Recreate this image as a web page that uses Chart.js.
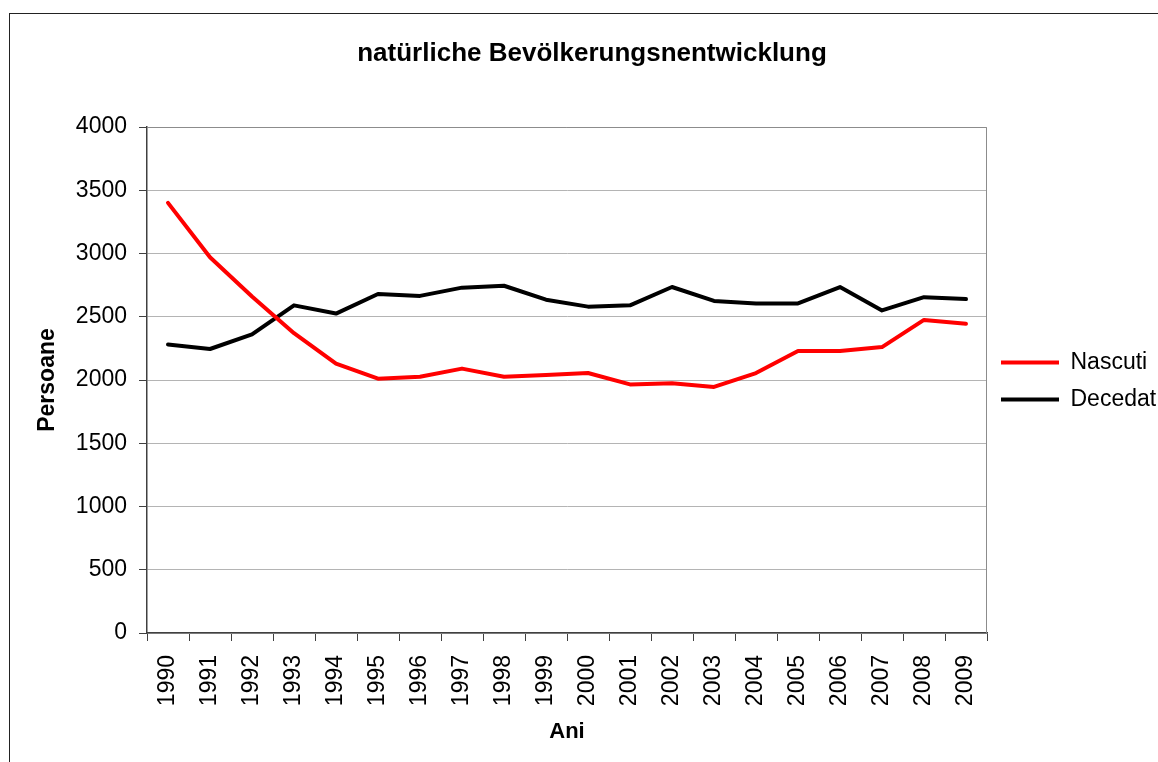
<!DOCTYPE html>
<html>
<head>
<meta charset="utf-8">
<title>natürliche Bevölkerungsnentwicklung</title>
<script src="https://cdn.jsdelivr.net/npm/chart.js@4/dist/chart.umd.min.js"></script>
<style>
  html, body { margin: 0; padding: 0; background: #fff; }
  #wrap { position: relative; width: 1158px; height: 762px; }
</style>
</head>
<body>
<div id="wrap"><canvas id="chart"></canvas></div>
<script>
// values
const years = ["1990", "1991", "1992", "1993", "1994", "1995", "1996", "1997", "1998", "1999",
               "2000", "2001", "2002", "2003", "2004", "2005", "2006", "2007", "2008", "2009"];
const nascuti = [3400, 2970, 2660, 2370, 2130, 2010, 2025, 2090, 2025, 2040,
                 2055, 1965, 1975, 1945, 2055, 2230, 2230, 2260, 2475, 2445];
const decedati = [2280, 2245, 2360, 2590, 2525, 2680, 2665, 2730, 2745, 2635,
                  2580, 2590, 2735, 2625, 2605, 2605, 2735, 2550, 2655, 2640];
const yMin = 0, yMax = 4000, yStep = 500;

const FONT = "'Liberation Sans', Arial, sans-serif";

// outer chart frame + grey plot-area border
const frame = {
  id: "frame",
  beforeDraw(chart) {
    const ctx = chart.ctx;
    ctx.save();
    ctx.fillStyle = "#fff";
    ctx.fillRect(0, 0, chart.width, chart.height);
    ctx.strokeStyle = "#222";
    ctx.lineWidth = 1;
    ctx.strokeRect(9.5, 13.5, 3000, 3000);
    ctx.restore();
  },
  beforeDatasetsDraw(chart) {
    const a = chart.chartArea, ctx = chart.ctx;
    ctx.save();
    ctx.strokeStyle = "#8c8c8c";
    ctx.lineWidth = 1;
    ctx.beginPath();
    ctx.moveTo(a.left, a.top + 0.5);
    ctx.lineTo(a.right - 0.5, a.top + 0.5);
    ctx.lineTo(a.right - 0.5, a.bottom);
    ctx.stroke();
    ctx.restore();
  }
};

new Chart(document.getElementById("chart"), {
  type: "line",
  data: {
    labels: years,
    datasets: [
      { label: "Nascuti", data: nascuti, borderColor: "#ff0000", backgroundColor: "#ff0000",
        borderWidth: 4, pointRadius: 0, tension: 0, borderJoinStyle: "round", borderCapStyle: "round" },
      { label: "Decedat", data: decedati, borderColor: "#000000", backgroundColor: "#000000",
        borderWidth: 4, pointRadius: 0, tension: 0, borderJoinStyle: "round", borderCapStyle: "round" },
    ],
  },
  options: {
    responsive: true,
    maintainAspectRatio: false,
    animation: false,
    layout: { padding: { left: 26, top: 0, right: 0, bottom: 0 } },
    plugins: {
      title: {
        display: true,
        text: "natürliche Bevölkerungsnentwicklung",
        color: "#000",
        font: { family: FONT, size: 26, weight: "bold" },
        padding: { top: 38, bottom: 57.8 },
      },
      legend: {
        position: "right",
        maxWidth: 171,
        labels: {
          color: "#000",
          font: { family: FONT, size: 23 },
          usePointStyle: true,
          pointStyle: "line",
          pointStyleWidth: 58,
          padding: 14,
        },
      },
      tooltip: { enabled: false },
    },
    scales: {
      x: {
        offset: true,
        afterFit: (s) => { s.height = 129; },
        grid: { display: true, drawOnChartArea: false, drawTicks: true, tickLength: 8,
                tickColor: "#404040", offset: true },
        border: { color: "#404040", width: 1.5 },
        ticks: { color: "#000", font: { family: FONT, size: 23 }, minRotation: 90, maxRotation: 90,
                 padding: 14, autoSkip: false },
        title: { display: true, text: "Ani", color: "#000",
                 font: { family: FONT, size: 22, weight: "bold" }, padding: { top: 0, bottom: 17 } },
      },
      y: {
        min: yMin,
        max: yMax,
        afterFit: (s) => { s.width = 121; },
        grid: { color: "#b4b4b4", lineWidth: 1, tickLength: 8, tickColor: "#404040" },
        border: { color: "#404040", width: 1.5 },
        ticks: { stepSize: yStep, color: "#000", font: { family: FONT, size: 23 }, padding: 12,
                 callback: (v) => String(v) },
        title: { display: true, text: "Persoane", color: "#000",
                 font: { family: FONT, size: 23, weight: "bold" }, padding: { top: 8, bottom: 0 } },
      },
    },
  },
  plugins: [frame],
});
</script>
</body>
</html>
